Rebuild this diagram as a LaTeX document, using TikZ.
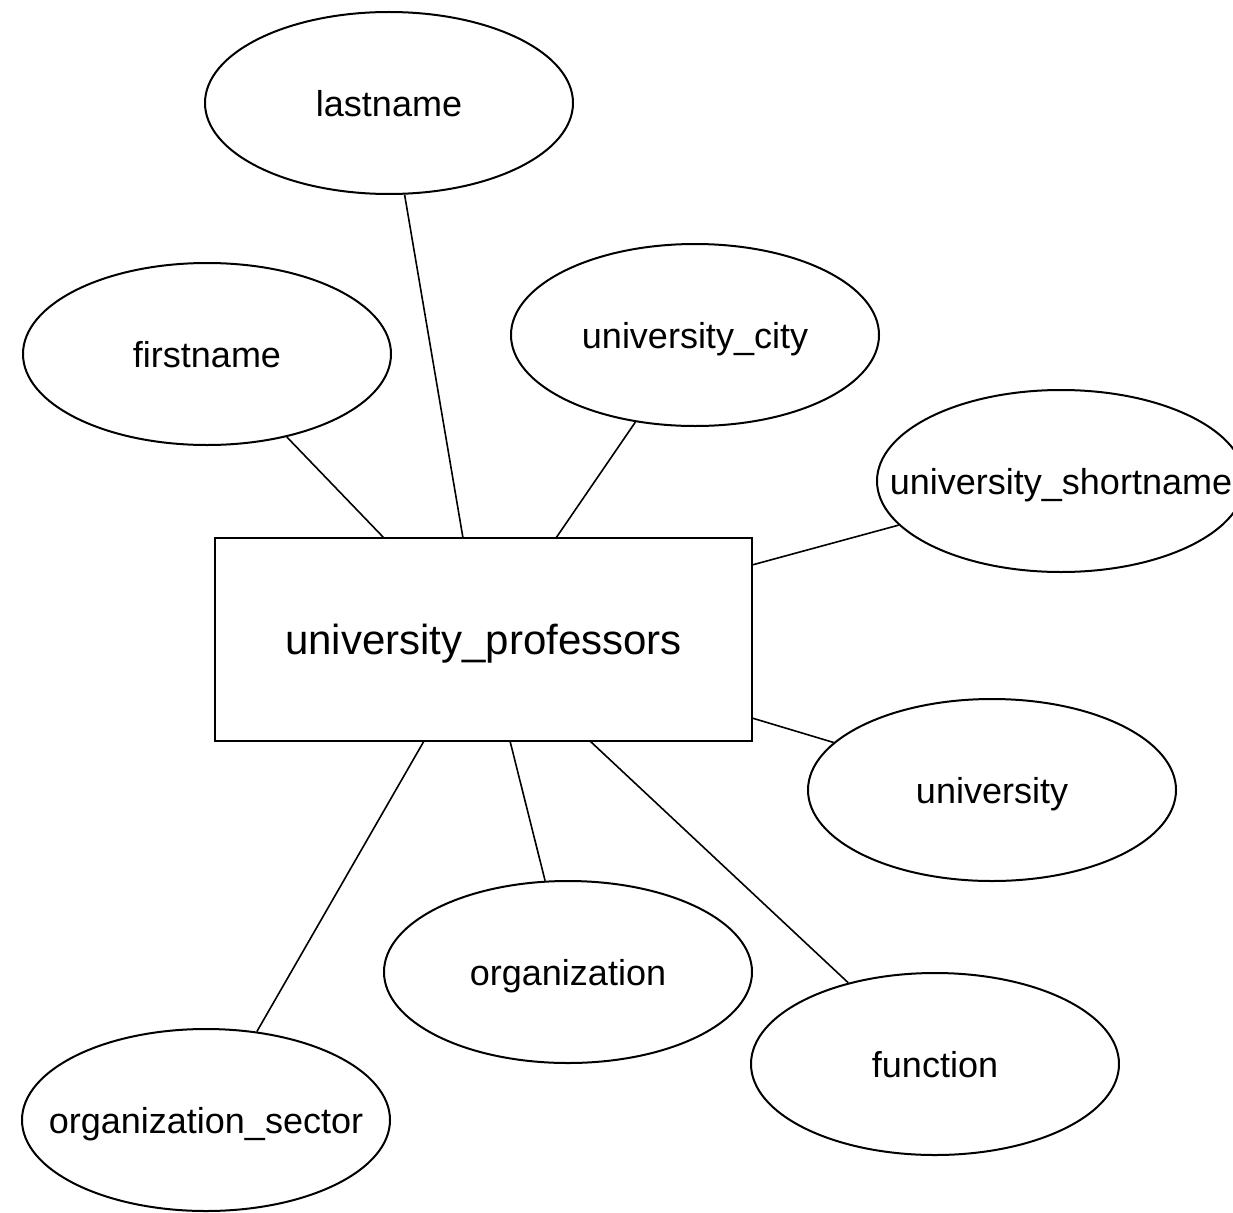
\documentclass[tikz,border=0pt]{standalone}
\usepackage{fontspec}
\setmainfont{Liberation Sans}
\usetikzlibrary{shapes.geometric}
\newcommand{\zerow}[2][-13.5pt]{\raisebox{#1}[0pt][0pt]{\makebox[0pt]{#2}}}
\begin{document}
\begin{tikzpicture}[x=1pt,y=-1pt,
  attr/.style={ellipse,draw,line width=2pt,fill=white,minimum width=368pt,minimum height=182pt,inner sep=0pt,font=\fontsize{36}{40}\selectfont},
  entity/.style={rectangle,draw,line width=2.2pt,fill=white,minimum width=537pt,minimum height=203pt,inner sep=0pt,font=\fontsize{42}{48}\selectfont},
  conn/.style={line width=1.6pt}]
\useasboundingbox (0,0) rectangle (1233,1212);
\node[entity] (prof) at (483.5,639.5) {\zerow[-15pt]{university\_professors}};
\node[attr] (lastname) at (389,103) {\zerow{lastname}};
\node[attr] (firstname) at (207,354) {\zerow{firstname}};
\node[attr] (ucity) at (695,335) {\zerow{university\_city}};
\node[attr] (ushort) at (1061,481) {\zerow{university\_shortname}};
\node[attr] (univ) at (992,790) {\zerow{university}};
\node[attr] (org) at (568,972) {\zerow{organization}};
\node[attr] (func) at (935,1064) {\zerow{function}};
\node[attr] (orgsec) at (206,1120) {\zerow{organization\_sector}};
\coordinate (p1) at (384,538);
\coordinate (p2) at (463,538);
\coordinate (p3) at (556,538);
\coordinate (p4) at (752,565);
\coordinate (p5) at (752,718);
\coordinate (p6) at (510,741);
\coordinate (p7) at (590,741);
\coordinate (p8) at (424,741);
\draw[conn] (p1) -- (firstname);
\draw[conn] (p2) -- (lastname);
\draw[conn] (p3) -- (ucity);
\draw[conn] (p4) -- (ushort);
\draw[conn] (p5) -- (univ);
\draw[conn] (p6) -- (org);
\draw[conn] (p7) -- (func);
\draw[conn] (p8) -- (orgsec);
\end{tikzpicture}
\end{document}
